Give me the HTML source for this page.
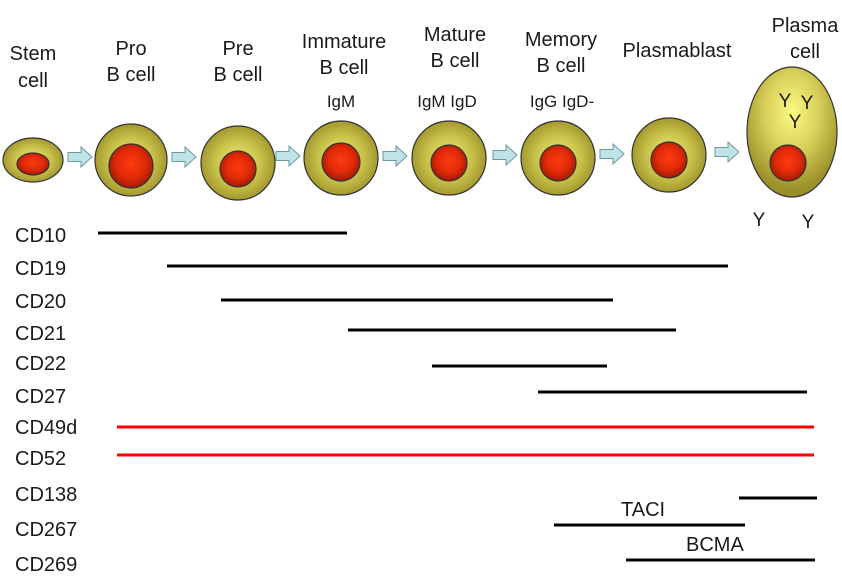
<!DOCTYPE html>
<html><head><meta charset="utf-8"><style>
html,body{margin:0;padding:0;background:#fff;}
svg{display:block;}
text{font-family:"Liberation Sans",Arial,sans-serif;fill:#1a1a1a;}
</style></head><body>
<svg width="842" height="578" viewBox="0 0 842 578" xmlns="http://www.w3.org/2000/svg">
<defs>
<radialGradient id="cy" cx="50%" cy="50%" r="55%">
<stop offset="0" stop-color="#f4f07a"/><stop offset="0.55" stop-color="#c9c24a"/><stop offset="1" stop-color="#9a8f28"/>
</radialGradient>
<radialGradient id="cyp" cx="50%" cy="35%" r="60%">
<stop offset="0" stop-color="#fbfb80"/><stop offset="0.5" stop-color="#d8d05a"/><stop offset="1" stop-color="#9a8f28"/>
</radialGradient>
<radialGradient id="nu" cx="50%" cy="45%" r="55%">
<stop offset="0" stop-color="#ff3a10"/><stop offset="0.6" stop-color="#e02a08"/><stop offset="1" stop-color="#a01a05"/>
</radialGradient>
<g id="arr"><path d="M0,-4.5 H13 V-10 L24,0 L13,10 V4.5 H0 Z" fill="#bfe3e6" stroke="#6a9aa0" stroke-width="1"/></g>
</defs>
<g stroke="#333" stroke-width="1.2">
<ellipse cx="33" cy="160" rx="30" ry="22" fill="url(#cy)"/>
<ellipse cx="33" cy="164" rx="16" ry="11" fill="url(#nu)"/>
<circle cx="131" cy="160" r="36" fill="url(#cy)"/>
<circle cx="131" cy="166" r="22" fill="url(#nu)"/>
<circle cx="238" cy="163" r="37" fill="url(#cy)"/>
<circle cx="238" cy="169" r="18" fill="url(#nu)"/>
<circle cx="341" cy="158" r="37" fill="url(#cy)"/>
<circle cx="341" cy="162" r="19" fill="url(#nu)"/>
<circle cx="449" cy="158" r="37" fill="url(#cy)"/>
<circle cx="449" cy="163" r="18" fill="url(#nu)"/>
<circle cx="558" cy="158" r="37" fill="url(#cy)"/>
<circle cx="558" cy="163" r="18" fill="url(#nu)"/>
<circle cx="669" cy="155" r="37" fill="url(#cy)"/>
<circle cx="669" cy="160" r="18" fill="url(#nu)"/>
<ellipse cx="792" cy="132" rx="45" ry="65" fill="url(#cyp)"/>
<circle cx="788" cy="163" r="18" fill="url(#nu)"/>
</g>
<use href="#arr" x="68" y="157"/>
<use href="#arr" x="172" y="157"/>
<use href="#arr" x="276" y="156"/>
<use href="#arr" x="383" y="156"/>
<use href="#arr" x="493" y="155"/>
<use href="#arr" x="600" y="154"/>
<use href="#arr" x="715" y="152"/>
<g font-size="20" text-anchor="middle">
<text x="33" y="60">Stem</text><text x="33" y="87">cell</text>
<text x="131" y="55">Pro</text><text x="131" y="81">B cell</text>
<text x="238" y="55">Pre</text><text x="238" y="81">B cell</text>
<text x="344" y="48">Immature</text><text x="344" y="74">B cell</text>
<text x="455" y="41">Mature</text><text x="455" y="67">B cell</text>
<text x="561" y="46">Memory</text><text x="561" y="72">B cell</text>
<text x="677" y="57">Plasmablast</text>
<text x="805" y="32">Plasma</text><text x="805" y="58">cell</text>
</g>
<g font-size="17" text-anchor="middle">
<text x="341" y="107">IgM</text>
<text x="447" y="107">IgM IgD</text>
<text x="562" y="107">IgG  IgD-</text>
</g>
<g font-size="19" text-anchor="middle">
<text x="785" y="107">Y</text><text x="807" y="109">Y</text><text x="795" y="128">Y</text>
<text x="759" y="226">Y</text><text x="808" y="228">Y</text>
</g>
<g font-size="20">
<text x="15" y="242">CD10</text>
<text x="15" y="275">CD19</text>
<text x="15" y="308">CD20</text>
<text x="15" y="340">CD21</text>
<text x="15" y="370">CD22</text>
<text x="15" y="403">CD27</text>
<text x="15" y="434">CD49d</text>
<text x="15" y="465">CD52</text>
<text x="15" y="501">CD138</text>
<text x="15" y="536">CD267</text>
<text x="15" y="571">CD269</text>
<text x="621" y="516">TACI</text>
<text x="686" y="551">BCMA</text>
</g>
<g stroke="#000" stroke-width="3">
<line x1="98" y1="233" x2="347" y2="233"/>
<line x1="167" y1="266" x2="728" y2="266"/>
<line x1="221" y1="300" x2="613" y2="300"/>
<line x1="348" y1="330" x2="676" y2="330"/>
<line x1="432" y1="366" x2="607" y2="366"/>
<line x1="538" y1="392" x2="807" y2="392"/>
<line x1="739" y1="498" x2="817" y2="498"/>
<line x1="554" y1="525" x2="745" y2="525"/>
<line x1="626" y1="560" x2="815" y2="560"/>
</g>
<g stroke="#f00" stroke-width="3">
<line x1="117" y1="427" x2="814" y2="427"/>
<line x1="117" y1="455" x2="814" y2="455"/>
</g>
</svg>
</body></html>
